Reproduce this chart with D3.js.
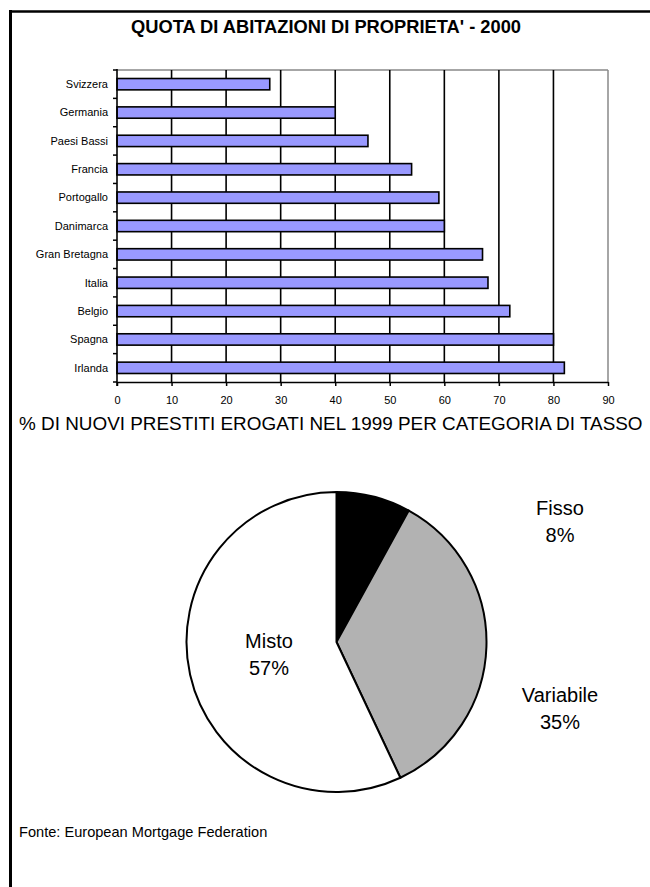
<!DOCTYPE html>
<html>
<head>
<meta charset="utf-8">
<script src="https://cdn.jsdelivr.net/npm/d3@7"></script>
<style>
  html, body { margin: 0; padding: 0; background: #fff; }
  svg { display: block; font-family: "Liberation Sans", Arial, sans-serif; }
</style>
</head>
<body>
<svg id="chart" width="650" height="887"></svg>
<script>
// ---- data ----
const countries = ["Svizzera","Germania","Paesi Bassi","Francia","Portogallo","Danimarca","Gran Bretagna","Italia","Belgio","Spagna","Irlanda"];
const ownership = [28, 40, 46, 54, 59, 60, 67, 68, 72, 80, 82];
const xTicks = [0, 10, 20, 30, 40, 50, 60, 70, 80, 90];

const rateCategories = ["Fisso", "Variabile", "Misto"];
const rateShares = [8, 35, 57];

const title = "QUOTA DI ABITAZIONI DI PROPRIETA' - 2000";
const pieTitle = "% DI NUOVI PRESTITI EROGATI NEL 1999 PER CATEGORIA DI TASSO";
const source = "Fonte: European Mortgage Federation";

// ---- layout / style ----
const svg = d3.select("#chart");
const plot = { left: 117, right: 608, top: 70, bottom: 382 };
const barColor = "#9999ff";
const sliceColors = ["#000000", "#b2b2b2", "#ffffff"];
const pieCenter = { x: 336.5, y: 642 };
const pieRadius = 150;
const labelPos = [ {x: 560, y: 515}, {x: 560, y: 702}, {x: 269, y: 648} ];

// page frame
svg.append("line").attr("x1", 10.5).attr("x2", 10.5).attr("y1", 10).attr("y2", 887)
  .attr("stroke", "#000").attr("stroke-width", 3);
svg.append("line").attr("x1", 9).attr("x2", 650).attr("y1", 11.5).attr("y2", 11.5)
  .attr("stroke", "#000").attr("stroke-width", 2.5);

// title
svg.append("text").attr("x", 326).attr("y", 32.5).attr("text-anchor", "middle")
  .attr("font-weight", "bold").attr("font-size", 18.3).text(title);

// scales
const x = d3.scaleLinear().domain([0, 90]).range([plot.left, plot.right]);
const y = d3.scaleBand().domain(countries).range([plot.top, plot.bottom])
  .paddingInner(0.6).paddingOuter(0.3);

// plot frame (gray top & right)
svg.append("line").attr("x1", plot.left).attr("x2", plot.right).attr("y1", plot.top).attr("y2", plot.top)
  .attr("stroke", "#888").attr("stroke-width", 1.5);
svg.append("line").attr("x1", plot.right).attr("x2", plot.right).attr("y1", plot.top).attr("y2", plot.bottom)
  .attr("stroke", "#888").attr("stroke-width", 1.5);

// gridlines
svg.append("g").selectAll("line").data(xTicks.filter(t => t > 0 && t < 90)).join("line")
  .attr("x1", d => x(d)).attr("x2", d => x(d))
  .attr("y1", plot.top).attr("y2", plot.bottom)
  .attr("stroke", "#000").attr("stroke-width", 1.6);

// bars
svg.append("g").selectAll("rect").data(countries).join("rect")
  .attr("x", x(0))
  .attr("y", d => y(d))
  .attr("width", (d, i) => x(ownership[i]) - x(0))
  .attr("height", y.bandwidth())
  .attr("fill", barColor).attr("stroke", "#000").attr("stroke-width", 1.6);

// x axis
const xAxis = d3.axisBottom(x).tickValues(xTicks).tickSize(4).tickPadding(10).tickSizeOuter(0);
const gx = svg.append("g").attr("transform", `translate(0,${plot.bottom})`).call(xAxis);
gx.select(".domain").attr("stroke", "#000").attr("stroke-width", 1.6);
gx.selectAll(".tick line").attr("stroke", "#000").attr("stroke-width", 1.5);
gx.selectAll(".tick text").attr("font-size", 11).attr("font-family", "Liberation Sans, Arial, sans-serif").attr("fill", "#000");

// y axis: line with ticks at category boundaries
const step = y.step();
const boundaries = d3.range(countries.length + 1).map(i => plot.top + i * step);
svg.append("line").attr("x1", plot.left).attr("x2", plot.left).attr("y1", plot.top - 1).attr("y2", plot.bottom + 4)
  .attr("stroke", "#000").attr("stroke-width", 1.6);
svg.append("g").selectAll("line").data(boundaries).join("line")
  .attr("x1", plot.left - 4).attr("x2", plot.left)
  .attr("y1", d => d).attr("y2", d => d)
  .attr("stroke", "#000").attr("stroke-width", 1.5);
svg.append("g").selectAll("text").data(countries).join("text")
  .attr("x", plot.left - 9)
  .attr("y", d => y(d) + y.bandwidth() / 2)
  .attr("dy", "0.35em")
  .attr("text-anchor", "end").attr("font-size", 11).text(d => d);

// pie title
svg.append("text").attr("x", 19).attr("y", 430).attr("font-size", 18.9).text(pieTitle);

// pie
const pie = d3.pie().sort(null).value(d => d)(rateShares);
const arc = d3.arc().innerRadius(0).outerRadius(pieRadius);
const gp = svg.append("g").attr("transform", `translate(${pieCenter.x},${pieCenter.y})`);
gp.selectAll("path").data(pie).join("path")
  .attr("d", arc)
  .attr("fill", (d, i) => sliceColors[i])
  .attr("stroke", "#000").attr("stroke-width", 2).attr("stroke-linejoin", "round");

// pie labels
const lg = svg.append("g");
rateCategories.forEach((c, i) => {
  const t = lg.append("text").attr("x", labelPos[i].x).attr("y", labelPos[i].y)
    .attr("text-anchor", "middle").attr("font-size", 20);
  t.append("tspan").attr("x", labelPos[i].x).text(c);
  t.append("tspan").attr("x", labelPos[i].x).attr("dy", 27).text(rateShares[i] + "%");
});

// source
svg.append("text").attr("x", 19).attr("y", 837).attr("font-size", 14.6).text(source);
</script>
</body>
</html>
